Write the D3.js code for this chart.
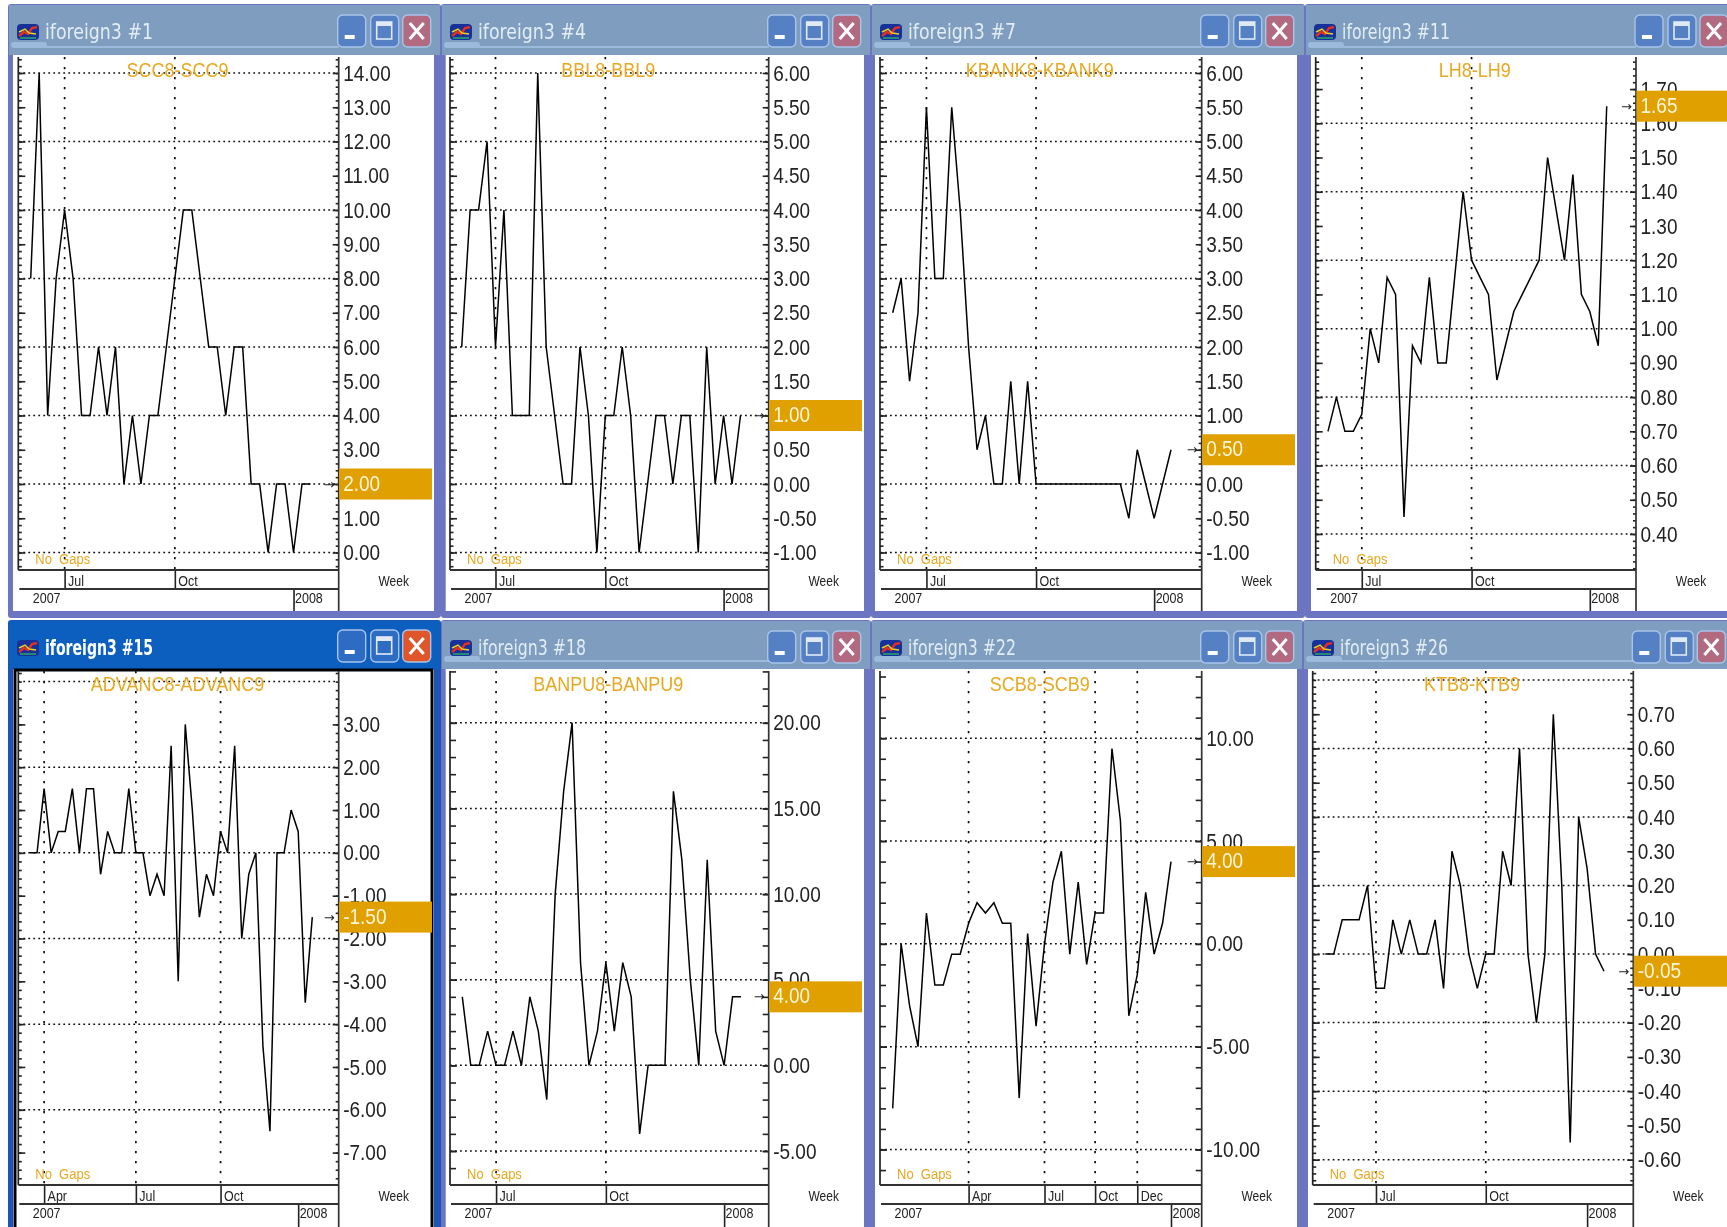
<!DOCTYPE html>
<html>
<head>
<meta charset="utf-8">
<script src="https://cdnjs.cloudflare.com/ajax/libs/d3/7.8.5/d3.min.js"></script>
<style>
  html, body { margin: 0; padding: 0; background: #fff; overflow: hidden; }
  svg { display: block; }
  text { font-family: "Liberation Sans", Arial, sans-serif; }
</style>
</head>
<body>
<div id="mainCanvas"></div>
<script>
// weekly spreads
var scc = [8,14,4,8,10,8,4,4,6,4,6,2,4,2,4,4,6,8,10,10,8,6,6,4,6,6,2,2,0,2,2,0,2,2];
var bbl = [2,4,4,5,2,4,1,1,1,6,2,1,0,0,2,1,-1,1,1,2,1,-1,0,1,1,0,1,1,-1,2,0,1,0,1];
var kbank = [2.5,3,1.5,2.5,5.5,3,3,5.5,4,2,0.5,1,0,0,1.5,0,1.5,0,0,0,0,0,0,0,0,0,0,0,-0.5,0.5,0,-0.5,0,0.5];
var lh = [0.7,0.8,0.7,0.7,0.75,1,0.9,1.15,1.1,0.45,0.95,0.9,1.15,0.9,0.9,1.15,1.4,1.2,1.15,1.1,0.85,0.95,1.05,1.1,1.15,1.2,1.5,1.35,1.2,1.45,1.1,1.05,0.95,1.65];
var advanc = [0,0,1.5,0,0.5,0.5,1.5,0,1.5,1.5,-0.5,0.5,0,0,1.5,0,0,-1,-0.5,-1,2.5,-3,3,1,-1.5,-0.5,-1,0.5,0,2.5,-2,-0.5,0,-4.5,-6.5,0,0,1,0.5,-3.5,-1.5];
var banpu = [4,0,0,2,0,0,2,0,4,2,-2,10,16,20,6,0,2,6,2,6,4,-4,0,0,0,16,12,5,0,12,2,0,4,4];
var scb = [-8,0,-3,-5,1.5,-2,-2,-0.5,-0.5,1,2,1.5,2,1,1,-7.5,0.5,-4,0,3,4.5,-0.5,3,-1,1.5,1.5,9.5,6,-3.5,-1.5,2.5,-0.5,1,4];
var ktb = [0,0,0.1,0.1,0.1,0.2,-0.1,-0.1,0.1,0,0.1,0,0,0.1,-0.1,0.3,0.2,0,-0.1,0,0,0.3,0.2,0.6,0,-0.2,0,0.7,0.2,-0.55,0.4,0.25,0,-0.05];

var windowNames = ["iforeign3 #1","iforeign3 #4","iforeign3 #7","iforeign3 #11","iforeign3 #15","iforeign3 #18","iforeign3 #22","iforeign3 #26"];
var spreadNames = ["SCC8-SCC9","BBL8-BBL9","KBANK8-KBANK9","LH8-LH9","ADVANC8-ADVANC9","BANPU8-BANPU9","SCB8-SCB9","KTB8-KTB9"];
var allSeries = [scc,bbl,kbank,lh,advanc,banpu,scb,ktb];

// value axis labels, dotted lines and small tick step
var labelsOnes = [14,13,12,11,10,9,8,7,6,5,4,3,2,1,0];
var labelsHalf = [6,5.5,5,4.5,4,3.5,3,2.5,2,1.5,1,0.5,0,-0.5,-1];
var labelsLh = [1.7,1.6,1.5,1.4,1.3,1.2,1.1,1,0.9,0.8,0.7,0.6,0.5,0.4];
var labelsAdvanc = [3,2,1,0,-1,-2,-3,-4,-5,-6,-7];
var labelsBanpu = [20,15,10,5,0,-5];
var labelsScb = [10,5,0,-5,-10];
var labelsKtb = [0.7,0.6,0.5,0.4,0.3,0.2,0.1,0,-0.1,-0.2,-0.3,-0.4,-0.5,-0.6];
var allLabels = [labelsOnes,labelsHalf,labelsHalf,labelsLh,labelsAdvanc,labelsBanpu,labelsScb,labelsKtb];

var gridOnes = [14,12,10,8,6,4,2,0];
var gridHalf = [6,5,4,3,2,1,0,-1];
var gridLh = [1.6,1.4,1.2,1,0.8,0.6,0.4];
var gridAdvanc = [4,2,0,-2,-4,-6];
var gridKtb = [0.8,0.6,0.4,0.2,0,-0.2,-0.4,-0.6];
var allGrid = [gridOnes,gridHalf,gridHalf,gridLh,gridAdvanc,labelsBanpu,labelsScb,gridKtb];
var minorSteps = [0.2,0.1,0.1,0.02,0.2,1,1,0.02];

// week index where each month / year label starts
var monthTicks = [[4,17],[4,17],[4,17],[4,17],[2,15,27],[4,17],[9,18,24,29],[6,19]];
var monthLabels = [["Jul","Oct"],["Jul","Oct"],["Jul","Oct"],["Jul","Oct"],["Apr","Jul","Oct"],["Jul","Oct"],["Apr","Jul","Oct","Dec"],["Jul","Oct"]];
var yearTicks = [31,31,31,31,38,31,33,31];

// window geometry
var layout = [
  {win:8,    winEnd:441,  white:13,   whiteEnd:434,  left:18.3,   right:338.7,  x0:30.7,   x1:310.5,  row:0, yA:[14,73],    yB:[0,552.5]},
  {win:441,  winEnd:871,  white:445.7,whiteEnd:864,  left:450,    right:768.7,  x0:461.7,  x1:740.5,  row:0, yA:[6,73],     yB:[-1,552.5]},
  {win:871,  winEnd:1305, white:875,  whiteEnd:1297, left:880,    right:1201.7, x0:892.7,  x1:1171,   row:0, yA:[6,73],     yB:[-1,552.5]},
  {win:1305, winEnd:1740, white:1311, whiteEnd:1735, left:1315.7, right:1636,   x0:1328,   x1:1606.7, row:0, yA:[1.6,123.3],yB:[0.4,534]},
  {win:8,    winEnd:441,  white:13,   whiteEnd:434,  left:18.3,   right:338.7,  x0:30,     x1:312.3,  row:1, yA:[3,724.4],  yB:[-7,1152.6], active:true},
  {win:441,  winEnd:871,  white:445.7,whiteEnd:864,  left:450,    right:768.7,  x0:462.3,  x1:741,    row:1, yA:[20,722.8], yB:[-5,1151]},
  {win:871,  winEnd:1303, white:875,  whiteEnd:1297, left:880,    right:1201.7, x0:892.7,  x1:1171,   row:1, yA:[10,738.2], yB:[-10,1149.5]},
  {win:1303, winEnd:1740, white:1308, whiteEnd:1729, left:1312.7, right:1633.3, x0:1325.3, x1:1604,   row:1, yA:[0.7,714.2],yB:[-0.6,1159.7]}
];
var rows = [
  {top:4,   titleEnd:55,  plotTop:57,  plotBottom:570,  line2:589,  end:611,  winEnd:618},
  {top:620, titleEnd:669, plotTop:671, plotBottom:1185, line2:1204, end:1227, winEnd:1232}
];

var orange = "#e8a820", tag = "#e0a000", stretch = "scale(1,1.16)";
var fmt = d3.formatLocale({decimal:".", thousands:",", grouping:[3], currency:["",""], minus:"-"}).format(".2f");

var svg = d3.select("#mainCanvas").append("svg").attr("width",1727).attr("height",1227);
var defs = svg.append("defs");
defs.append("filter").attr("id","soft").append("feGaussianBlur").attr("stdDeviation",0.4);
var root = svg.append("g").attr("filter","url(#soft)");

function drawButton(g, x, y, fill){
  return g.append("rect").attr("x",x).attr("y",y).attr("width",28).attr("height",32).attr("rx",5)
    .attr("fill",fill).attr("stroke","#a9c4ea").attr("stroke-width",1.4);
}

function drawWindow(g, p, r, name){
  var active = p.active;
  g.append("rect").attr("x",p.win).attr("y",r.top).attr("width",p.winEnd-p.win).attr("height",r.winEnd-r.top)
    .attr("rx",3).attr("fill",active ? "#1c52b8" : "#6c75c2");
  g.append("rect").attr("x",p.win+1).attr("y",r.top+1).attr("width",p.winEnd-p.win-2).attr("height",r.titleEnd-r.top-1)
    .attr("fill",active ? "#0a5ebf" : "#7f9ebf");
  if(!active){
    g.append("rect").attr("x",p.win+36).attr("y",r.titleEnd-9).attr("width",p.right-p.win-36).attr("height",2).attr("fill","#9cbbdc");
    g.append("rect").attr("x",p.win+3).attr("y",r.titleEnd-13).attr("width",36).attr("height",6).attr("rx",3).attr("fill","#9cbbdc");
  }
  g.append("rect").attr("x",p.white).attr("y",r.titleEnd).attr("width",p.whiteEnd-p.white).attr("height",r.end-r.titleEnd).attr("fill","#fff");
  if(active){
    g.append("rect").attr("x",15).attr("y",r.titleEnd+1).attr("width",417).attr("height",r.end-r.titleEnd+4)
      .attr("fill","#fff").attr("stroke","#000").attr("stroke-width",3);
  }

  // little chart icon on the title bar
  var ix = p.win+9, iy = r.top+20;
  g.append("rect").attr("x",ix).attr("y",iy).attr("width",22).attr("height",16).attr("rx",4).attr("fill","#16309a");
  g.append("path").attr("d","M"+(ix+2)+" "+(iy+12)+"l5 -4l4 2l4 -6l5 -1").attr("fill","none").attr("stroke","#e23020").attr("stroke-width",2.4);
  g.append("path").attr("d","M"+(ix+2)+" "+(iy+8)+"l6 -3l4 4l7 1").attr("fill","none").attr("stroke","#f0d020").attr("stroke-width",1.4);
  g.append("path").attr("d","M"+(ix+3)+" "+(iy+14)+"h16").attr("fill","none").attr("stroke","#30b060").attr("stroke-width",1.4);

  g.append("text").attr("x",p.win+37).attr("y",r.top+35)
    .attr("fill",active ? "#ffffff" : "#e2edf6").attr("font-size",21).attr("font-weight",active ? 700 : 400)
    .attr("textLength",name.length>11 ? 108 : 94).attr("lengthAdjust","spacingAndGlyphs")
    .style("font-family","'DejaVu Sans', sans-serif").text(name);

  var by = r.top+(active ? 10 : 11), bx = p.right-1;
  drawButton(g, bx, by, active ? "#2f6cc4" : "#5580c4");
  g.append("rect").attr("x",bx+7).attr("y",by+20).attr("width",10).attr("height",4).attr("fill","#fff");
  drawButton(g, bx+33, by, active ? "#2f6cc4" : "#5580c4");
  g.append("rect").attr("x",bx+39).attr("y",by+7).attr("width",15).attr("height",17).attr("fill","none").attr("stroke","#dfeaf6").attr("stroke-width",1.6);
  g.append("rect").attr("x",bx+39).attr("y",by+7).attr("width",15).attr("height",4).attr("fill","#dfeaf6");
  drawButton(g, bx+65, by, active ? "#e0562a" : "#b26a80");
  g.append("path").attr("d","M"+(bx+72)+" "+(by+8)+"l14 16m0 -16l-14 16").attr("stroke","#fff").attr("stroke-width",3).attr("fill","none");
}

function drawPanel(i){
  var p = layout[i], r = rows[p.row], data = allSeries[i], name = windowNames[i];
  var g = root.append("g");
  drawWindow(g, p, r, name);

  var x = d3.scaleLinear().domain([0,data.length-1]).range([p.x0,p.x1]);
  var y = d3.scaleLinear().domain([p.yA[0],p.yB[0]]).range([p.yA[1],p.yB[1]]);
  var step = minorSteps[i];
  var lo = y.invert(r.plotBottom), hi = y.invert(r.plotTop);
  var minors = d3.range(Math.ceil(lo/step),Math.floor(hi/step)+1).map(function(k){ return k*step; });

  // dotted grid
  g.append("g").selectAll("line").data(allGrid[i]).enter().append("line")
    .attr("x1",p.left).attr("x2",p.right).attr("y1",function(d){ return y(d); }).attr("y2",function(d){ return y(d); })
    .attr("stroke","#111").attr("stroke-width",1.5).attr("stroke-dasharray","1.8 3.2");
  g.append("g").selectAll("line").data(monthTicks[i]).enter().append("line")
    .attr("x1",function(d){ return x(d); }).attr("x2",function(d){ return x(d); }).attr("y1",r.plotTop).attr("y2",r.plotBottom)
    .attr("stroke","#111").attr("stroke-width",1.7).attr("stroke-dasharray","2.2 7.8");

  // left side ticks, no labels
  var leftMinor = g.append("g").attr("transform","translate("+p.left+",0)")
    .call(d3.axisRight(y).tickValues(minors).tickSize(step>=1 ? 6 : 3.5).tickFormat(""));
  var leftMajor = g.append("g").attr("transform","translate("+p.left+",0)")
    .call(d3.axisRight(y).tickValues(allLabels[i]).tickSize(7).tickFormat(""));

  // right side ticks with labels
  var rightMinor = g.append("g").attr("transform","translate("+p.right+",0)")
    .call(d3.axisLeft(y).tickValues(minors).tickSize(step>=1 ? 6 : 3).tickFormat(""));
  var rightAxis = g.append("g").attr("transform","translate("+p.right+",0)")
    .call(d3.axisRight(y).tickValues(allLabels[i]).tickSize(-6).tickPadding(4.5).tickFormat(fmt));
  rightAxis.selectAll("text").attr("font-size",19).attr("fill","#222").attr("transform",stretch)
    .style("font-family","'Liberation Sans', Arial, sans-serif");

  [leftMinor,leftMajor,rightMinor,rightAxis].forEach(function(a){
    a.select(".domain").remove();
    a.selectAll("line").attr("stroke","#222").attr("stroke-width",1.6);
  });
  g.append("line").attr("x1",p.left).attr("x2",p.left).attr("y1",r.plotTop).attr("y2",r.plotBottom).attr("stroke","#222").attr("stroke-width",1.7);
  g.append("line").attr("x1",p.right).attr("x2",p.right).attr("y1",r.plotTop).attr("y2",r.end).attr("stroke","#333").attr("stroke-width",1.7);

  // week rows under the plot
  var monthAxis = g.append("g").attr("transform","translate(0,"+r.plotBottom+")")
    .call(d3.axisBottom(x).tickValues(monthTicks[i]).tickSize(r.line2-r.plotBottom).tickFormat(function(d,k){ return monthLabels[i][k]; }));
  monthAxis.select(".domain").remove();
  monthAxis.selectAll("line").attr("stroke","#222").attr("stroke-width",1.6);
  monthAxis.selectAll("text").attr("x",3).attr("y",13.5).attr("dy",0).attr("text-anchor","start")
    .attr("font-size",12.5).attr("fill","#222").style("font-family","'Liberation Sans', Arial, sans-serif")
    .attr("transform",stretch);

  var yearAxis = g.append("g").attr("transform","translate(0,"+r.line2+")")
    .call(d3.axisBottom(x).tickValues([yearTicks[i]]).tickSize(r.end-r.line2).tickFormat(function(){ return "2008"; }));
  yearAxis.select(".domain").remove();
  yearAxis.selectAll("line").attr("stroke","#222").attr("stroke-width",1.6);
  yearAxis.selectAll("text").attr("x",1).attr("y",12).attr("dy",0).attr("text-anchor","start")
    .attr("font-size",12.5).attr("fill","#222").style("font-family","'Liberation Sans', Arial, sans-serif")
    .attr("transform",stretch);
  g.append("text").attr("transform","translate("+(p.left+14.5)+","+(r.line2+14)+") "+stretch)
    .attr("font-size",12.5).attr("fill","#222").text("2007");

  g.append("line").attr("x1",p.left).attr("x2",p.right).attr("y1",r.plotBottom).attr("y2",r.plotBottom).attr("stroke","#333").attr("stroke-width",1.8);
  g.append("line").attr("x1",p.left+1).attr("x2",p.right).attr("y1",r.line2).attr("y2",r.line2).attr("stroke","#333").attr("stroke-width",1.8);
  g.append("text").attr("transform","translate("+(p.right+55)+","+(r.plotBottom+15.5)+") "+stretch)
    .attr("text-anchor","middle").attr("font-size",12).attr("fill","#222").text("Week");

  // the series
  var line = d3.line().x(function(d,k){ return x(k); }).y(function(d){ return y(d); });
  g.append("path").datum(data).attr("d",line).attr("fill","none").attr("stroke","#000").attr("stroke-width",1.5).attr("stroke-linejoin","miter");

  // texts in the plot
  g.append("text").attr("transform","translate("+((p.left+p.right)/2-1)+","+(r.plotTop+20)+") "+stretch)
    .attr("text-anchor","middle").attr("font-size",18).attr("fill",orange).text(spreadNames[i]);
  g.append("text").attr("transform","translate("+(p.left+17)+","+(r.plotBottom-6)+") "+stretch)
    .style("white-space","pre")
    .attr("font-size",13).attr("fill",orange).text("No  Gaps");

  // last value tag
  var last = data[data.length-1];
  g.append("rect").attr("x",p.right+0.5).attr("y",y(last)-15.5).attr("width",p.whiteEnd-2-p.right-0.5).attr("height",31).attr("fill",tag);
  g.append("text").attr("transform","translate("+(p.right+4.5)+","+(y(last)+6.5)+") "+stretch)
    .attr("font-size",19).attr("fill","#fff6dc").text(fmt(last));
  g.append("text").attr("x",p.right-15).attr("y",y(last)+4.5).attr("font-size",13).attr("fill","#222")
    .style("font-family","'DejaVu Sans', sans-serif").text("→");
}

d3.range(0,layout.length).forEach(drawPanel);
</script>
</body>
</html>
